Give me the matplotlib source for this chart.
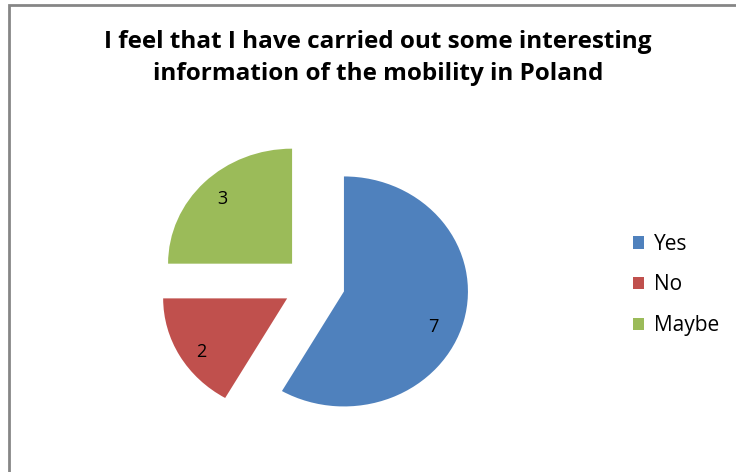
import matplotlib.pyplot as plt
from matplotlib.patches import Rectangle

categories = ['Yes', 'No', 'Maybe']
values = [7, 2, 3]
colors = ['#4F81BD', '#C0504D', '#9BBB59']
title = 'I feel that I have carried out some interesting\ninformation of the mobility in Poland'

W, H = 736, 472
fig = plt.figure(figsize=(W / 100, H / 100), dpi=100)
plt.rcParams['font.family'] = ['Open Sans', 'DejaVu Sans']

# chart frame (gray border, running off right and bottom edges)
fig.patches.append(Rectangle((9 / W, -0.1), 1.2, (H - 5) / H + 0.1, transform=fig.transFigure,
                             fill=False, edgecolor='#868686', linewidth=2))

# pie axes: centre ~(314, 284) px, rx ~124 px, ry ~115 px
cx, cy, rx, ry = 314, 284, 124, 115
lim = 1.5
ax = fig.add_axes([(cx - lim * rx) / W, (H - cy - lim * ry) / H, 2 * lim * rx / W, 2 * lim * ry / H])
wedges, texts, autotexts = ax.pie(values, colors=colors, startangle=90, counterclock=False,
                                  explode=[0.25] * len(values), autopct=lambda p: '%d' % round(p * sum(values) / 100),
                                  pctdistance=0.8, textprops={'fontsize': 13, 'color': 'black'})
ax.set_aspect('auto')
ax.set_xlim(-lim, lim)
ax.set_ylim(-lim, lim)
# Excel put the labels of "7" and "2" a bit lower than the wedge middle
for t, dx, dy in [(autotexts[0], -0.05, -0.1), (autotexts[1], 0.0, -0.07)]:
    x0, y0 = t.get_position()
    t.set_position((x0 + dx, y0 + dy))

fig.text(378 / W, 1 - 58 / H, title, ha='center', va='center', fontsize=17.5, fontweight='bold',
         linespacing=1.42)

fig.legend(wedges, categories, loc='center left', bbox_to_anchor=(614 / W, 1 - 285 / H),
           frameon=False, fontsize=15, handlelength=0.55, handleheight=0.55, labelspacing=0.95,
           handletextpad=0.45)

fig.savefig('out.png', dpi=100)
